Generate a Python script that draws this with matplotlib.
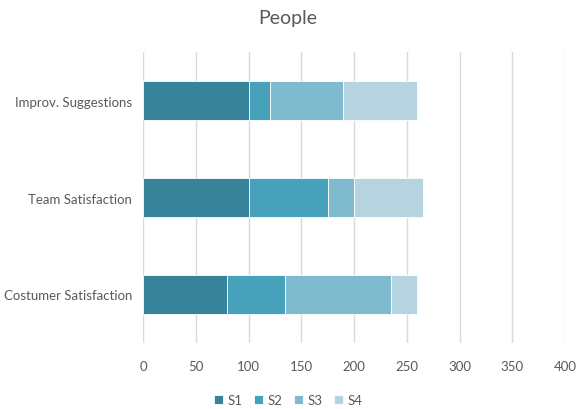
import matplotlib
matplotlib.use("Agg")
import matplotlib.pyplot as plt

categories = ["Costumer Satisfaction", "Team Satisfaction", "Improv. Suggestions"]
series_names = ["S1", "S2", "S3", "S4"]
s1 = [80, 100, 100]
s2 = [55, 75, 20]
s3 = [100, 25, 70]
s4 = [25, 65, 70]
x_ticks = [0, 50, 100, 150, 200, 250, 300, 350, 400]

COLORS = ["#37839A", "#47A1BA", "#7FBACF", "#B6D4E0"]
TEXT = "#595959"
GRID = "#D9D9D9"

plt.rcParams["font.family"] = ["Lato", "DejaVu Sans"]

fig = plt.figure(figsize=(5.76, 4.10), dpi=100)
ax = fig.add_axes([0.2483, 0.161, 0.7326, 0.7097])

left = [0, 0, 0]
for name, vals, col in zip(series_names, [s1, s2, s3, s4], COLORS):
    ax.barh(categories, vals, left=left, height=0.4, color=col,
            edgecolor="white", linewidth=0.6, label=name, zorder=3)
    left = [a + b for a, b in zip(left, vals)]

ax.set_xlim(0, 400)
ax.set_ylim(-0.5, 2.5)
ax.set_xticks(x_ticks)
ax.grid(axis="x", color=GRID, linewidth=1.0, zorder=0)
ax.set_axisbelow(True)
for sp in ax.spines.values():
    sp.set_visible(False)
ax.tick_params(length=0, labelsize=9.5, colors=TEXT, pad=8)
ax.tick_params(axis="x", pad=12)

fig.suptitle("People", x=0.5, y=0.975, fontsize=14, color=TEXT, va="top")

fig.legend(loc="lower center", bbox_to_anchor=(0.5, -0.022), ncol=4,
           frameon=False, fontsize=9.5, labelcolor=TEXT, handlelength=0.7,
           handleheight=0.7, handletextpad=0.3, columnspacing=0.9)

fig.savefig("out.png", dpi=100, facecolor="white")
